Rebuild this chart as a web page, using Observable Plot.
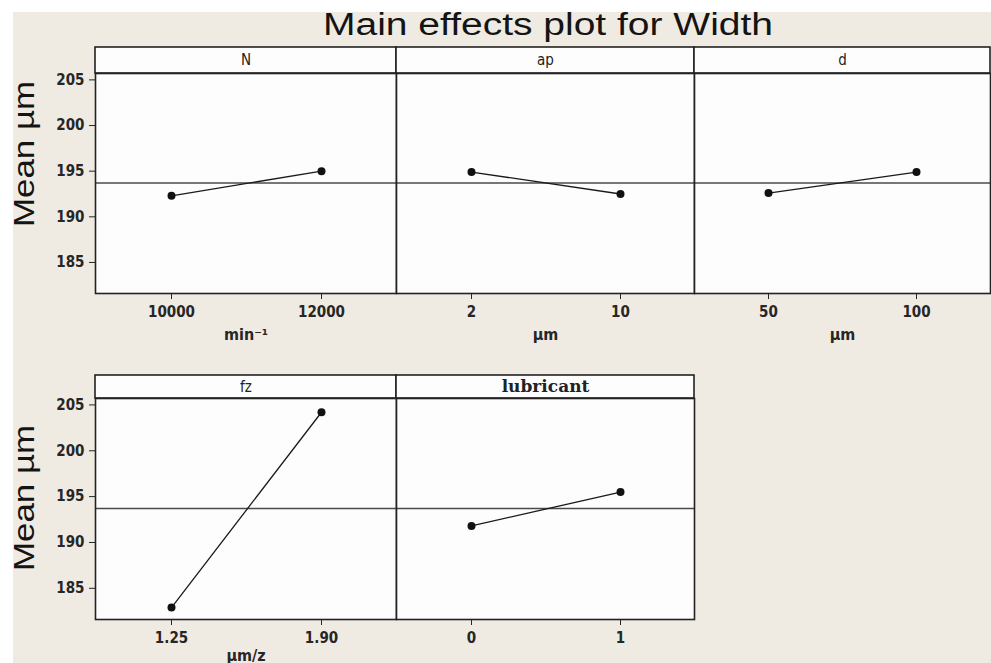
<!DOCTYPE html>
<html><head><meta charset="utf-8">
<script src="https://cdn.jsdelivr.net/npm/d3@7"></script>
<script src="https://cdn.jsdelivr.net/npm/@observablehq/plot@0.6"></script>
<style>
html,body{margin:0;padding:0;background:#fff;}
#fig{position:relative;width:991px;height:663px;overflow:hidden;background:#fff;}
#bg{position:absolute;left:13px;top:12px;right:0;bottom:0;background:#efebe2;}
.panel{position:absolute;}
#overlay{position:absolute;left:0;top:0;pointer-events:none;}
.panel [aria-label="x-axis label"]{font-size:16px;}
</style></head><body><div id="fig"><div id="bg"></div></div>
<script>
// ---- data ----
const title = "Main effects plot for Width";
const yLabel = "Mean µm";
const factors = ["N", "ap", "d", "fz", "lubricant"];
const levels = [["10000", "12000"], ["2", "10"], ["50", "100"], ["1.25", "1.90"], ["0", "1"]];
const means = [[192.3, 195.0], [194.9, 192.5], [192.6, 194.9], [182.9, 204.2], [191.8, 195.5]];
const units = ["min⁻¹", "µm", "µm", "µm/z", ""];
const grandMean = 193.7;
const yTicks = [185, 190, 195, 200, 205];
const yDomain = [181.6, 205.7];

// ---- layout ----
const colLeft = [95, 396, 694], colWidth = [301, 298, 296];
const rows = [{stripTop: 47, plotTop: 73, plotBottom: 293, labelOffset: 46},
              {stripTop: 375, plotTop: 398, plotBottom: 619, labelOffset: 41}];
const fig = document.getElementById("fig");
const tickFont = "'DejaVu Sans Condensed', 'Liberation Sans Narrow', 'DejaVu Sans', sans-serif";

factors.forEach((f, i) => {
  const r = i < 3 ? 0 : 1, c = i < 3 ? i : i - 3;
  const R = rows[r];
  const mL = c === 0 ? 60 : 1, mR = 1, mT = R.plotTop - R.stripTop + 1, mB = 55;
  const w = colWidth[c] + mL + mR, h = (R.plotBottom - R.plotTop) + mT + mB;
  const table = levels[i].map((l, j) => ({level: l, mean: means[i][j]}));
  const svg = Plot.plot({
    width: w, height: h,
    marginLeft: mL, marginRight: mR, marginTop: mT, marginBottom: mB,
    style: {background: "transparent", fontFamily: tickFont, fontSize: "15px", fontWeight: "bold", color: "#262626", overflow: "visible"},
    x: {type: "point", domain: levels[i], padding: 0.5, tickSize: 6, tickPadding: 7,
        label: units[i] || null, labelAnchor: "center", labelOffset: R.labelOffset},
    y: {domain: yDomain, ticks: yTicks, tickSize: 6, tickPadding: 5, label: null, axis: c === 0 ? "left" : null},
    marks: [
      Plot.frame({fill: "#fdfdfd"}),
      Plot.ruleY([grandMean], {stroke: "#4a4a4a", strokeWidth: 1.4}),
      Plot.line(table, {x: "level", y: "mean", stroke: "#1a1a1a", strokeWidth: 1.3}),
      Plot.dot(table, {x: "level", y: "mean", r: 4, fill: "#111", stroke: "none"}),
      Plot.text([f], {frameAnchor: "top", dy: -(mT - 1) / 2, lineAnchor: "middle", text: d => d,
        fontFamily: f === "lubricant" ? "'DejaVu Serif', serif" : tickFont,
        fontWeight: f === "lubricant" ? "bold" : "normal",
        fontSize: f === "lubricant" ? 17 : 15, fill: "#222"}),
      Plot.frame({stroke: "#222", strokeWidth: 1.6})
    ]
  });
  // strip box
  d3.select(svg).insert("rect", ":first-child")
    .attr("x", mL).attr("y", 1).attr("width", colWidth[c]).attr("height", mT - 1)
    .attr("fill", "#fdfdfd").attr("stroke", "#222").attr("stroke-width", 1.6);
  svg.classList.add("panel");
  svg.style.left = (colLeft[c] - mL) + "px";
  svg.style.top = (R.stripTop - 1) + "px";
  fig.appendChild(svg);
});

// title and y labels
const ov = d3.select(fig).append("svg").attr("id", "overlay").attr("width", 991).attr("height", 663);
ov.append("text").text(title)
  .attr("x", 323).attr("y", 35).attr("textLength", 450).attr("lengthAdjust", "spacingAndGlyphs")
  .attr("font-family", "'Liberation Sans', Arial, sans-serif").attr("font-size", 31).attr("fill", "#141414");
[154, 498].forEach(cy => {
  ov.append("text").text(yLabel)
    .attr("transform", `translate(34,${cy}) rotate(-90)`).attr("text-anchor", "middle")
    .attr("textLength", 146).attr("lengthAdjust", "spacingAndGlyphs")
    .attr("font-family", "'Liberation Sans', Arial, sans-serif").attr("font-size", 29).attr("fill", "#141414");
});
</script></body></html>
